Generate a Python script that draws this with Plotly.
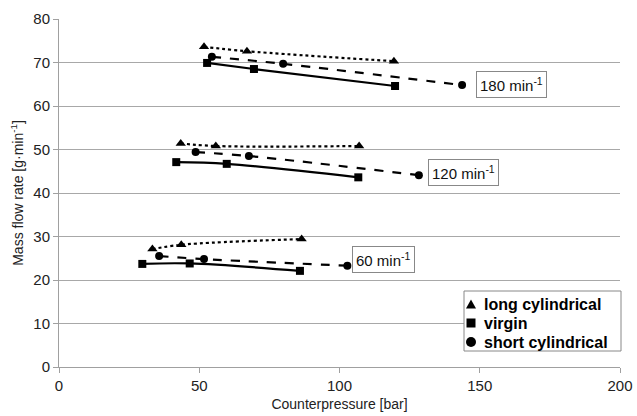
import plotly.graph_objects as go

# Data (counterpressure [bar], mass flow rate [g/min])
speeds = ["60", "120", "180"]
long_x = {"60": [33.3, 43.6, 86.5], "120": [43.4, 55.9, 107.0], "180": [51.7, 67.0, 119.4]}
long_y = {"60": [27.1, 28.1, 29.4], "120": [51.4, 50.8, 50.8], "180": [73.6, 72.6, 70.3]}
virgin_x = {"60": [29.7, 46.6, 85.9], "120": [41.8, 59.8, 106.7], "180": [52.8, 69.5, 119.8]}
virgin_y = {"60": [23.7, 23.8, 22.1], "120": [47.1, 46.7, 43.6], "180": [69.9, 68.5, 64.6]}
short_x = {"60": [35.7, 51.7, 102.8], "120": [48.7, 67.7, 128.3], "180": [54.5, 79.9, 143.7]}
short_y = {"60": [25.5, 24.8, 23.3], "120": [49.4, 48.5, 44.1], "180": [71.3, 69.7, 64.8]}
label_x = {"60": 104.6, "120": 131.4, "180": 148.5}
label_y = {"60": 24.6, "120": 44.6, "180": 65.0}
series_names = ["long cylindrical", "virgin", "short cylindrical"]

FONT = "Liberation Sans, Arial, sans-serif"
W, H = 637, 416
ML, MR, MT, MB = 59, 17, 19, 49
PW, PH = W - ML - MR, H - MT - MB


def px2paper(px, py):
    return (px - ML) / PW, (H - MB - py) / PH


fig = go.Figure()
for s in speeds:
    fig.add_trace(go.Scatter(x=long_x[s], y=long_y[s], mode="lines+markers",
                             line=dict(color="black", width=2.2, dash="dot", shape="spline"),
                             marker=dict(symbol="triangle-up", size=9, color="black"),
                             showlegend=False, name="long cylindrical"))
    fig.add_trace(go.Scatter(x=virgin_x[s], y=virgin_y[s], mode="lines+markers",
                             line=dict(color="black", width=2.2, shape="spline"),
                             marker=dict(symbol="square", size=8, color="black"),
                             showlegend=False, name="virgin"))
    fig.add_trace(go.Scatter(x=short_x[s], y=short_y[s], mode="lines+markers",
                             line=dict(color="black", width=2.2, dash="dash", shape="spline"),
                             marker=dict(symbol="circle", size=8, color="black"),
                             showlegend=False, name="short cylindrical"))
    fig.add_annotation(x=label_x[s], y=label_y[s], xref="x", yref="y",
                       text=f"{s} min<sup>-1</sup>", showarrow=False, xanchor="left",
                       font=dict(size=15, color="#111111", family=FONT),
                       bgcolor="white", bordercolor="#888888", borderwidth=1, borderpad=3)

# Custom legend (box, marker glyphs, bold labels)
bx0, by0 = px2paper(464, 351)
bx1, by1 = px2paper(621, 291)
fig.add_shape(type="rect", xref="paper", yref="paper", x0=bx0, y0=by0, x1=bx1, y1=by1,
              line=dict(color="#888888", width=1), fillcolor="white", layer="above")
rows_py = [304, 323, 342]
mx = 471
for name, py in zip(series_names, rows_py):
    if name == "long cylindrical":
        a = px2paper(mx - 5, py + 4.5)
        b = px2paper(mx + 5, py + 4.5)
        c = px2paper(mx, py - 4.5)
        fig.add_shape(type="path", xref="paper", yref="paper", layer="above",
                      path=f"M {a[0]} {a[1]} L {b[0]} {b[1]} L {c[0]} {c[1]} Z",
                      fillcolor="black", line=dict(width=0))
    elif name == "virgin":
        p0 = px2paper(mx - 4.5, py + 4.5)
        p1 = px2paper(mx + 4.5, py - 4.5)
        fig.add_shape(type="rect", xref="paper", yref="paper", layer="above",
                      x0=p0[0], y0=p0[1], x1=p1[0], y1=p1[1],
                      fillcolor="black", line=dict(width=0))
    else:
        p0 = px2paper(mx - 5, py + 5)
        p1 = px2paper(mx + 5, py - 5)
        fig.add_shape(type="circle", xref="paper", yref="paper", layer="above",
                      x0=p0[0], y0=p0[1], x1=p1[0], y1=p1[1],
                      fillcolor="black", line=dict(width=0))
    tx, ty = px2paper(482, py)
    fig.add_annotation(x=tx, y=ty, xref="paper", yref="paper", text=f"<b>{name}</b>",
                       showarrow=False, xanchor="left", yanchor="middle",
                       font=dict(size=16, color="black", family=FONT))

fig.update_layout(
    width=W, height=H,
    margin=dict(l=ML, r=MR, t=MT, b=MB),
    paper_bgcolor="white", plot_bgcolor="white",
    showlegend=False,
    font=dict(family=FONT, size=15, color="#222222"),
    xaxis=dict(range=[0, 200], tickvals=[0, 50, 100, 150, 200], showgrid=False,
               showline=True, linecolor="#a0a0a0", linewidth=1, ticks="outside",
               tickcolor="#a0a0a0", ticklen=5, zeroline=False, automargin=False,
               tickfont=dict(size=15),
               title=dict(text="Counterpressure [bar]", standoff=6, font=dict(size=14))),
    yaxis=dict(range=[0, 80], tickvals=list(range(0, 81, 10)), showgrid=True,
               gridcolor="#a8a8a8", gridwidth=1, showline=True, linecolor="#a0a0a0",
               linewidth=1, ticks="outside", tickcolor="#a0a0a0", ticklen=5, zeroline=False,
               automargin=False, tickfont=dict(size=15),
               title=dict(text="Mass flow rate [g·min<sup>-1</sup>]", standoff=6, font=dict(size=14))),
)

fig.write_html("out.html", config={"displayModeBar": False},
               post_script="document.body.style.margin='0';document.body.style.overflow='hidden';")
